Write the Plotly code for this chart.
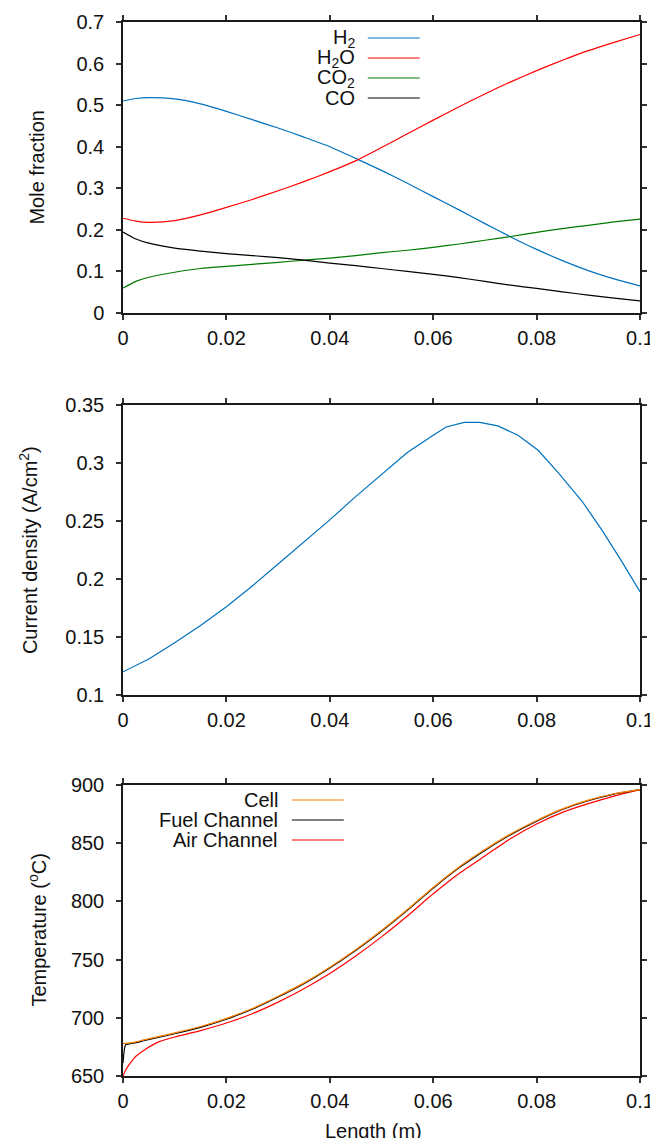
import plotly.graph_objects as go

# ---------------- data ----------------
x_species = [0, 0.0025, 0.005, 0.01, 0.015, 0.02, 0.025, 0.03, 0.035, 0.04, 0.045, 0.05,
             0.055, 0.06, 0.065, 0.07, 0.075, 0.08, 0.085, 0.09, 0.095, 0.1]
h2 = [0.510, 0.516, 0.518, 0.515, 0.503, 0.485, 0.465, 0.445, 0.423, 0.400, 0.372, 0.343,
      0.312, 0.280, 0.248, 0.215, 0.183, 0.153, 0.126, 0.102, 0.082, 0.065]
h2o = [0.228, 0.221, 0.218, 0.222, 0.236, 0.254, 0.273, 0.294, 0.316, 0.340, 0.366, 0.398,
       0.431, 0.464, 0.496, 0.527, 0.556, 0.583, 0.608, 0.631, 0.651, 0.670]
co2 = [0.060, 0.076, 0.086, 0.098, 0.107, 0.112, 0.117, 0.122, 0.127, 0.132, 0.138, 0.145,
       0.151, 0.158, 0.166, 0.175, 0.184, 0.194, 0.203, 0.211, 0.219, 0.226]
co = [0.195, 0.178, 0.168, 0.156, 0.149, 0.143, 0.138, 0.133, 0.127, 0.120, 0.114, 0.107,
      0.100, 0.093, 0.085, 0.076, 0.067, 0.059, 0.051, 0.043, 0.036, 0.029]

x_current = [0, 0.005, 0.01, 0.015, 0.02, 0.025, 0.03, 0.035, 0.04, 0.045, 0.05, 0.055,
             0.06, 0.0625, 0.066, 0.069, 0.0725, 0.0764, 0.0803, 0.0843, 0.0888, 0.0928,
             0.0967, 0.1]
current = [0.120, 0.131, 0.145, 0.160, 0.176, 0.194, 0.213, 0.232, 0.251, 0.271, 0.290,
           0.309, 0.324, 0.331, 0.335, 0.335, 0.332, 0.324, 0.311, 0.291, 0.267, 0.241,
           0.2135, 0.189]

x_temp = [0, 0.0005, 0.0014, 0.0025, 0.004, 0.007, 0.01, 0.015, 0.02, 0.025, 0.03, 0.035,
          0.04, 0.045, 0.05, 0.055, 0.06, 0.065, 0.07, 0.075, 0.08, 0.085, 0.09, 0.095, 0.1]
t_cell = [678, 678.1, 678.5, 679.3, 681, 684, 687, 692.5, 699.5, 708, 718.5, 730,
          743.5, 758.5, 775, 793, 812, 829.5, 844.5, 858, 869.5, 879.5, 887, 892.5, 896]
t_fuel = [661, 676.8, 677.8, 678.6, 680.3, 683.3, 686.3, 691.8, 698.8, 707.3, 717.8, 729.3,
          742.8, 757.8, 774.3, 792.3, 811.3, 828.8, 843.8, 857.3, 868.9, 879, 886.6, 892.2, 896]
t_air = [650, 655, 661, 667, 672, 679.5, 683.5, 689, 695.5, 703.5, 713.5, 725,
         738, 753, 769.5, 787.5, 806.5, 824, 839, 854, 866.5, 876.5, 884, 890.5, 896]

x_ticks = [0, 0.02, 0.04, 0.06, 0.08, 0.1]
x_ticktext = ["0", "0.02", "0.04", "0.06", "0.08", "0.1"]
y1_ticks = [0, 0.1, 0.2, 0.3, 0.4, 0.5, 0.6, 0.7]
y1_text = ["0", "0.1", "0.2", "0.3", "0.4", "0.5", "0.6", "0.7"]
y2_ticks = [0.1, 0.15, 0.2, 0.25, 0.3, 0.35]
y2_text = ["0.1", "0.15", "0.2", "0.25", "0.3", "0.35"]
y3_ticks = [650, 700, 750, 800, 850, 900]
y3_text = ["650", "700", "750", "800", "850", "900"]

species_names = ["H<sub>2</sub>", "H<sub>2</sub>O", "CO<sub>2</sub>", "CO"]
temp_names = ["Cell", "Fuel Channel", "Air Channel"]

# ---------------- styles ----------------
BLUE = "#0072bd"
RED = "#ff0000"
GREEN = "#007a00"
BLACK = "#000000"
ORANGE = "#ff8000"
FONT = "Liberation Sans, Arial, sans-serif"
FS = 20
TXT = "#111111"

OFF = 8                      # browser body margin
W, H = 650, 1130             # figure size (fits in the 658x1140 window with the body margin)
# target positions in window pixels (reference), converted to figure pixels
PL, PR = 123 - OFF, 640.5 - OFF
PT, PB = 22 - OFF, 1076 - OFF
H_PLOT = PB - PT

fig = go.Figure()

def add(x, y, color, xa, ya, shape="spline"):
    line = dict(color=color, width=1.2, shape=shape)
    if shape == "spline":
        line["smoothing"] = 0.6
    fig.add_trace(go.Scatter(x=x, y=y, mode="lines", xaxis=xa, yaxis=ya, line=line,
                             showlegend=False, hoverinfo="skip"))

species_series = [h2, h2o, co2, co]
species_colors = [BLUE, RED, GREEN, BLACK]
for s, c in zip(species_series, species_colors):
    add(x_species, s, c, "x", "y")

add(x_current, current, BLUE, "x2", "y2", shape="linear")

temp_colors = [ORANGE, BLACK, RED]
add(x_temp, t_air, RED, "x3", "y3")
add(x_temp, t_fuel, BLACK, "x3", "y3")
add(x_temp, t_cell, ORANGE, "x3", "y3")

# ---------------- layout ----------------
def dom(top_win, bot_win):
    return [(PB - (bot_win - OFF)) / H_PLOT, (PB - (top_win - OFF)) / H_PLOT]

axis_common = dict(showline=True, linecolor="#1a1a1a", linewidth=1.5, mirror="ticks",
                   ticks="outside", ticklen=5, tickwidth=1.5, tickcolor="#333",
                   showgrid=False, zeroline=False, automargin=False,
                   tickfont=dict(family=FONT, size=FS, color=TXT))

def xax(anchor):
    return dict(axis_common, range=[0, 0.1], tickvals=x_ticks, ticktext=x_ticktext,
                anchor=anchor, domain=[0, 1], ticklabelstandoff=1)

def yax(anchor, rng, tv, tt, dmn):
    return dict(axis_common, range=rng, tickvals=tv, ticktext=tt, anchor=anchor,
                domain=dmn, ticklabelstandoff=8)

d1, d2, d3 = dom(22, 313), dom(405, 695), dom(785, 1076)

fig.update_layout(
    width=W, height=H,
    margin=dict(l=PL, r=W - PR, t=PT, b=H - PB),
    paper_bgcolor="white", plot_bgcolor="white",
    font=dict(family=FONT, size=FS, color=TXT),
    showlegend=False,
    xaxis=xax("y"),
    yaxis=yax("x", [0, 0.7], y1_ticks, y1_text, d1),
    xaxis2=xax("y2"),
    yaxis2=yax("x2", [0.1, 0.35], y2_ticks, y2_text, d2),
    xaxis3=xax("y3"),
    yaxis3=yax("x3", [650, 900], y3_ticks, y3_text, d3),
)

# axis titles placed like gnuplot labels (window pixel positions)
def win_to_paper_x(px):
    return ((px - OFF) - PL) / (PR - PL)

def win_to_paper_y(py):
    return (PB - (py - OFF)) / H_PLOT

for title, xpx, d in [("Mole fraction", 36, d1),
                      ("Current density (A/cm<sup>2</sup>)", 28, d2),
                      ("Temperature (<sup>o</sup>C)", 37, d3)]:
    fig.add_annotation(text=title, textangle=-90, showarrow=False,
                       xref="paper", yref="paper", x=win_to_paper_x(xpx), y=(d[0] + d[1]) / 2,
                       xanchor="center", yanchor="middle",
                       font=dict(family=FONT, size=FS, color=TXT))
fig.add_annotation(text="Length (m)", showarrow=False, xref="paper", yref="paper",
                   x=win_to_paper_x(374), y=win_to_paper_y(1131), xanchor="center",
                   yanchor="middle", font=dict(family=FONT, size=FS, color=TXT))

# ---------------- key boxes (gnuplot style: text then sample) ----------------
def key(names, colors, xref, yref, x_text_px, x_line0_px, x_line1_px, y_px_list, top_px, bot_px):
    for name, color, ypx in zip(names, colors, y_px_list):
        ydom = (bot_px - ypx) / (bot_px - top_px)
        xt = (x_text_px - 123) / (640.5 - 123)
        x0 = (x_line0_px - 123) / (640.5 - 123)
        x1 = (x_line1_px - 123) / (640.5 - 123)
        fig.add_annotation(x=xt, y=ydom, xref=xref, yref=yref, text=name, showarrow=False,
                           xanchor="right", yanchor="middle",
                           font=dict(family=FONT, size=FS, color=TXT))
        fig.add_shape(type="line", xref=xref, yref=yref, x0=x0, x1=x1, y0=ydom, y1=ydom,
                      line=dict(color=color, width=1.2))

key(species_names, species_colors, "x domain", "y domain", 357, 368, 420,
    [38, 58, 78, 98], 22, 313)
key(temp_names, temp_colors, "x3 domain", "y3 domain", 280, 292, 344,
    [800, 820, 840], 785, 1076)

fig.write_html("out.html")
